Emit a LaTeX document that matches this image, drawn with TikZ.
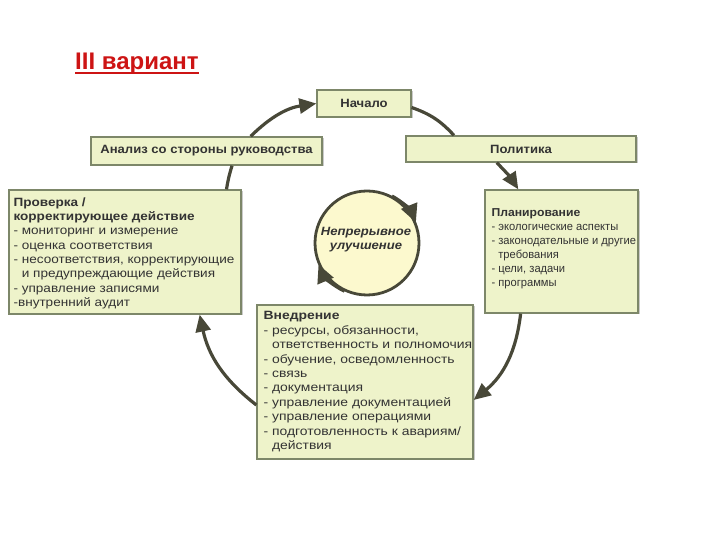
\documentclass[tikz,border=0pt]{standalone}
\usepackage{fontspec}
\setmainfont{Liberation Sans}
\newfontfamily\fProv{Liberation Sans}[FakeStretch=1.13]
\newfontfamily\fVned{Liberation Sans}[FakeStretch=1.16]
\newfontfamily\fAnal{Liberation Sans}[FakeStretch=1.09]
\newfontfamily\fPlan{Liberation Sans}[FakeStretch=0.97]
\newfontfamily\fPlanB{Liberation Sans}[FakeStretch=1.06]
\usetikzlibrary{arrows.meta,calc,shadows}
\definecolor{boxfill}{RGB}{238,243,202}
\definecolor{boxline}{RGB}{125,135,105}
\definecolor{circfill}{RGB}{252,249,206}
\definecolor{arr}{RGB}{72,72,56}
\definecolor{titlered}{RGB}{205,20,20}
\begin{document}
\begin{tikzpicture}[x=1pt,y=1pt,
  gbox/.style={draw=boxline,line width=1.3pt,fill=boxfill,inner sep=0pt,
    drop shadow={shadow xshift=1.5pt,shadow yshift=-1.5pt,fill=black!35,opacity=0.6}},
  btxt/.style={align=left,inner sep=0pt,anchor=north west,text=black!80},
  ctxt/.style={inner sep=0pt,text=black!80},
  flow/.style={draw=arr,line width=3.2pt,-{Triangle[length=17pt,width=15pt]}},
  ctip/.style={draw=arr,line width=2.8pt,-{Triangle[length=18pt,width=17pt]}},
  plain/.style={draw=arr,line width=3.2pt}]
\useasboundingbox (0,0) rectangle (720,540);
% title
\node[anchor=base west,inner sep=0pt,text=titlered,font=\fontsize{24}{27}\selectfont\bfseries] (title) at (75,470) {III вариант};
\draw[titlered,line width=1.6pt] ($(title.base west)+(0,-3)$) -- ($(title.base east)+(0,-3)$);
% boxes
\node[gbox,minimum width=94pt,minimum height=27pt] (nachalo) at (364,436.5) {};
\node[ctxt,font=\fAnal\fontsize{12}{14}\selectfont\bfseries] (nachalot) at (nachalo) {Начало};
\node[gbox,minimum width=231pt,minimum height=28pt] (analiz) at (206.5,389) {};
\node[ctxt,font=\fAnal\fontsize{12}{14}\selectfont\bfseries] (analizt) at (analiz) {Анализ со стороны руководства};
\node[gbox,minimum width=230pt,minimum height=26pt] (politika) at (521,391) {};
\node[ctxt,font=\fAnal\fontsize{12}{14}\selectfont\bfseries] (politikat) at (politika) {Политика};
\node[gbox,minimum width=232pt,minimum height=124pt] (proverka) at (125,288) {};
\node[btxt,font=\fProv\fontsize{12}{14.3}\selectfont] (proverkat) at ($(proverka.north west)+(5,-8)$) {\textbf{Проверка /}\\\textbf{корректирующее действие}\\- мониторинг и измерение\\- оценка соответствия\\- несоответствия, корректирующие\\\phantom{-} и предупреждающие действия\\- управление записями\\-внутренний аудит};
\node[gbox,minimum width=153pt,minimum height=123pt] (plan) at (561.5,288.5) {};
\node[btxt,font=\fPlan\fontsize{11.5}{14}\selectfont] (plant) at ($(plan.north west)+(7,-19)$) {{\fPlanB\bfseries Планирование}\\- экологические аспекты\\- законодательные и другие\\\phantom{-} требования\\- цели, задачи\\- программы};
\node[gbox,minimum width=216pt,minimum height=154pt] (vnedr) at (365,158) {};
\node[btxt,font=\fVned\fontsize{12}{14.4}\selectfont] (vnedrt) at ($(vnedr.north west)+(7,-7)$) {\textbf{Внедрение}\\- ресурсы, обязанности,\\\phantom{-} ответственность и полномочия\\- обучение, осведомленность\\- связь\\- документация\\- управление документацией\\- управление операциями\\- подготовленность к авариям/\\\phantom{-} действия};
% centre circle
\node[circle,draw=arr,line width=2.8pt,fill=circfill,minimum size=104pt,inner sep=0pt] (center) at (367,297) {};
\node[font=\fAnal\fontsize{12}{14}\selectfont\bfseries\itshape,align=center,inner sep=0pt,text=black!80] (centert) at (366,300) {Непрерывное\\улучшение};
\draw[ctip] (center.62) arc[start angle=62,end angle=22,radius=52pt];
\draw[ctip] (center.245) arc[start angle=245,end angle=203,radius=52pt];
% cycle connectors
\draw[flow] ($(analiz.north west)!0.69!(analiz.north east)$) to[bend left=18] (nachalo.west);
\draw[plain] ($(nachalo.east)+(0,-4)$) to[bend left=14] ($(politika.north west)!0.21!(politika.north east)$);
\draw[flow] ($(politika.south west)!0.395!(politika.south east)$) to[bend left=6] ($(plan.north west)!0.22!(plan.north east)$);
\draw[flow] ($(plan.south west)!0.235!(plan.south east)$) to[bend left=22] ($(vnedr.east)+(0,-18)$);
\draw[flow] ($(vnedr.west)+(0,-23)$) to[bend left=20] ($(proverka.south west)!0.82!(proverka.south east)$);
\draw[plain] ($(proverka.north west)!0.935!(proverka.north east)$) to[bend left=4] ($(analiz.south west)!0.61!(analiz.south east)$);
\end{tikzpicture}
\end{document}
